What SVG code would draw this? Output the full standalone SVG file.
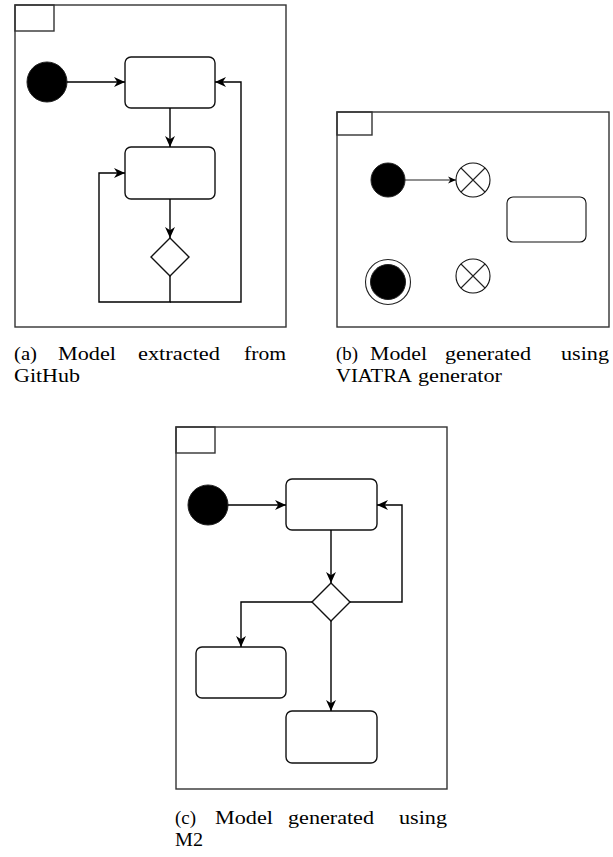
<svg xmlns="http://www.w3.org/2000/svg" width="613" height="857" viewBox="0 0 613 857">
  <style>
    .frame { fill: none; stroke: #333; stroke-width: 1.4; }
    .state { fill: #fff; stroke: #111; stroke-width: 1.4; }
    .init { fill: #000; stroke: #222; stroke-width: 1; }
    .edge { fill: none; stroke: #000; stroke-width: 1.4; }
    .edge-s { fill: none; stroke: #222; stroke-width: 1.1; }
    .cap { font-family: "Liberation Serif", "Times New Roman", serif; font-size: 19.5px; fill: #000; }
  </style>
  <defs>
    <marker id="arr" viewBox="0 0 10 10" refX="10" refY="5" markerWidth="11" markerHeight="11" markerUnits="userSpaceOnUse" orient="auto">
      <path d="M0,0.5 L10,5 L0,9.5 L3,5 Z" fill="#000"/>
    </marker>
    <marker id="arr-s" viewBox="0 0 10 10" refX="10" refY="5" markerWidth="8" markerHeight="8" markerUnits="userSpaceOnUse" orient="auto">
      <path d="M0,0.5 L10,5 L0,9.5 L3,5 Z" fill="#000"/>
    </marker>
  </defs>
  <rect width="613" height="857" fill="#fff"/>

  <!-- (a) -->
  <g id="a-frame">
    <rect class="frame" x="15" y="5" width="271" height="322"/>
    <rect class="frame" x="15" y="5" width="39" height="26"/>
  </g>
  <g id="a-init"><circle class="init" cx="47" cy="82" r="20"/></g>
  <g id="a-state1"><rect class="state" x="125" y="57" width="90" height="51" rx="6"/></g>
  <g id="a-state2"><rect class="state" x="125" y="147" width="90" height="52" rx="6"/></g>
  <g id="a-choice"><polygon class="state" points="170,238 189,257 170,276 151,257"/></g>
  <g id="a-edges">
    <path class="edge" d="M67,82 H125" marker-end="url(#arr)"/>
    <path class="edge" d="M170,108 V147" marker-end="url(#arr)"/>
    <path class="edge" d="M170,199 V238" marker-end="url(#arr)"/>
    <path class="edge" d="M170,276 V302 H99 V173 H125" marker-end="url(#arr)"/>
    <path class="edge" d="M170,302 H241 V82 H215" marker-end="url(#arr)"/>
  </g>

  <!-- (b) -->
  <g id="b-frame">
    <rect class="frame" x="337" y="112" width="272" height="215"/>
    <rect class="frame" x="337" y="112" width="35" height="23"/>
  </g>
  <g id="b-init"><circle class="init" cx="388" cy="180" r="17"/></g>
  <g id="b-exit1">
    <circle class="state" cx="473" cy="180" r="17" style="stroke-width:1.1"/>
    <path class="edge-s" d="M461,168 L485,192 M485,168 L461,192"/>
  </g>
  <g id="b-state"><rect class="state" x="507" y="197" width="79" height="45" rx="6" style="stroke-width:1.1"/></g>
  <g id="b-final">
    <circle cx="388" cy="282" r="22.5" fill="#fff" stroke="#222" stroke-width="1.1"/>
    <circle class="init" cx="388" cy="282" r="17.5"/>
  </g>
  <g id="b-exit2">
    <circle class="state" cx="473" cy="276" r="17" style="stroke-width:1.1"/>
    <path class="edge-s" d="M461,264 L485,288 M485,264 L461,288"/>
  </g>
  <g id="b-edges">
    <path class="edge-s" d="M405,180 H456" marker-end="url(#arr-s)"/>
  </g>

  <!-- (c) -->
  <g id="c-frame">
    <rect class="frame" x="176" y="427" width="271" height="362"/>
    <rect class="frame" x="176" y="427" width="39" height="26"/>
  </g>
  <g id="c-init"><circle class="init" cx="208" cy="505" r="20"/></g>
  <g id="c-state1"><rect class="state" x="286" y="479" width="91" height="51" rx="6"/></g>
  <g id="c-choice"><polygon class="state" points="331,583 350,602 331,621 312,602"/></g>
  <g id="c-state2"><rect class="state" x="196" y="647" width="90" height="51" rx="6"/></g>
  <g id="c-state3"><rect class="state" x="286" y="711" width="91" height="52" rx="6"/></g>
  <g id="c-edges">
    <path class="edge" d="M228,505 H286" marker-end="url(#arr)"/>
    <path class="edge" d="M331,530 V583" marker-end="url(#arr)"/>
    <path class="edge" d="M350,602 H402 V505 H377" marker-end="url(#arr)"/>
    <path class="edge" d="M312,602 H241 V647" marker-end="url(#arr)"/>
    <path class="edge" d="M331,621 V711" marker-end="url(#arr)"/>
  </g>

  <!-- captions -->
  <g id="captions" class="cap">
    <text x="14" y="360" textLength="23" lengthAdjust="spacingAndGlyphs">(a)</text>
    <text x="58" y="360" textLength="58" lengthAdjust="spacingAndGlyphs">Model</text>
    <text x="138" y="360" textLength="82" lengthAdjust="spacingAndGlyphs">extracted</text>
    <text x="244" y="360" textLength="42" lengthAdjust="spacingAndGlyphs">from</text>
    <text x="14" y="382" textLength="66" lengthAdjust="spacingAndGlyphs">GitHub</text>

    <text x="336" y="360" textLength="22" lengthAdjust="spacingAndGlyphs">(b)</text>
    <text x="370" y="360" textLength="57" lengthAdjust="spacingAndGlyphs">Model</text>
    <text x="445" y="360" textLength="86" lengthAdjust="spacingAndGlyphs">generated</text>
    <text x="561" y="360" textLength="48" lengthAdjust="spacingAndGlyphs">using</text>
    <text x="336" y="382" textLength="76" lengthAdjust="spacingAndGlyphs">VIATRA</text>
    <text x="418" y="382" textLength="84" lengthAdjust="spacingAndGlyphs">generator</text>

    <text x="175" y="824" textLength="21" lengthAdjust="spacingAndGlyphs">(c)</text>
    <text x="215" y="824" textLength="58" lengthAdjust="spacingAndGlyphs">Model</text>
    <text x="288" y="824" textLength="86" lengthAdjust="spacingAndGlyphs">generated</text>
    <text x="399" y="824" textLength="48" lengthAdjust="spacingAndGlyphs">using</text>
    <text x="175" y="846" textLength="28" lengthAdjust="spacingAndGlyphs">M2</text>
  </g>
</svg>
